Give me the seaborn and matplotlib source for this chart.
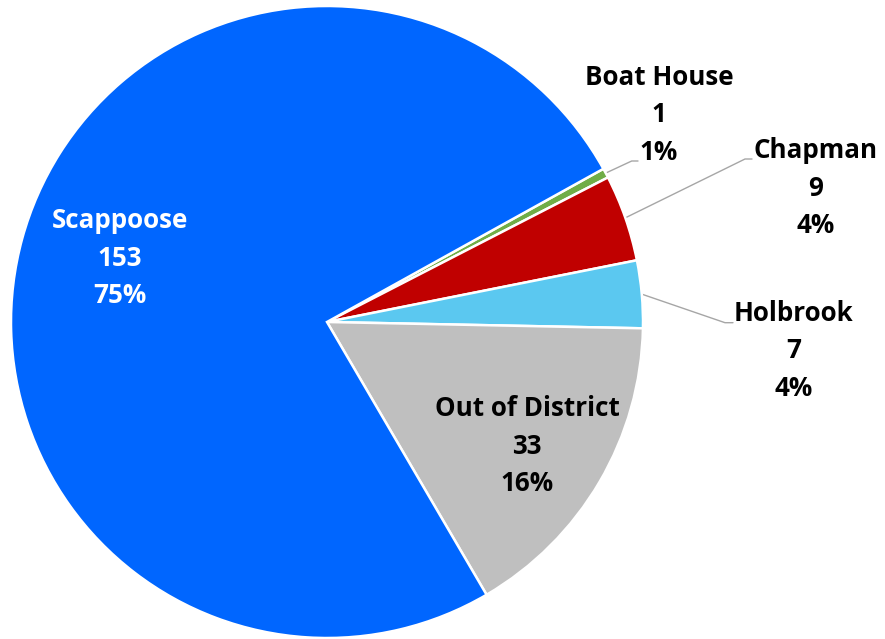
import numpy as np
import matplotlib
matplotlib.use("Agg")
import matplotlib.pyplot as plt
import seaborn as sns

# Student counts by area of residence
areas = ["Boat House", "Chapman", "Holbrook", "Out of District", "Scappoose"]
counts = [1, 9, 7, 33, 153]
pct_labels = ["1%", "4%", "4%", "16%", "75%"]
colors = ["#70AD47", "#C00000", "#5BC8F0", "#BFBFBF", "#0066FF"]

sns.set_theme(style="white")
plt.rcParams["font.family"] = ["Open Sans", "DejaVu Sans"]

W, H = 885, 639
fig = plt.figure(figsize=(W / 100, H / 100), dpi=100)
ax = fig.add_axes([0, 0, 1, 1])

cx, cy, R = 327, H - 322, 316
wedges, _ = ax.pie(
    counts,
    colors=colors,
    startangle=29,
    counterclock=False,
    center=(cx, cy),
    radius=R,
    wedgeprops=dict(edgecolor="white", linewidth=1.8),
)
ax.set_xlim(0, W)
ax.set_ylim(0, H)
ax.set_aspect("equal")
ax.axis("off")

# label anchors (centre of each text block) and leader-line elbows
label_pos = {
    "Boat House": (659, H - 115),
    "Chapman": (816, H - 188),
    "Holbrook": (794, H - 351),
    "Out of District": (527, H - 446),
    "Scappoose": (120, H - 258),
}
elbows = {
    "Boat House": [(631.7, H - 161), (638, H - 161)],
    "Chapman": [(745, H - 159), (752, H - 159)],
    "Holbrook": [(725, H - 322.7), (733, H - 322.7)],
}
text_colors = {"Scappoose": "white"}

for w, name, n, p in zip(wedges, areas, counts, pct_labels):
    x, y = label_pos[name]
    ax.text(x, y, f"{name}\n{n}\n{p}", ha="center", va="center",
            fontsize=18.7, fontweight="bold", linespacing=1.48,
            color=text_colors.get(name, "black"))
    if name in elbows:
        mid = np.deg2rad((w.theta1 + w.theta2) / 2)
        sx, sy = cx + R * np.cos(mid), cy + R * np.sin(mid)
        pts = [(sx, sy)] + elbows[name]
        ax.plot([q[0] for q in pts], [q[1] for q in pts],
                color="#A6A6A6", linewidth=1.0, zorder=0.5)

fig.savefig("out.png", dpi=100, facecolor="white")
